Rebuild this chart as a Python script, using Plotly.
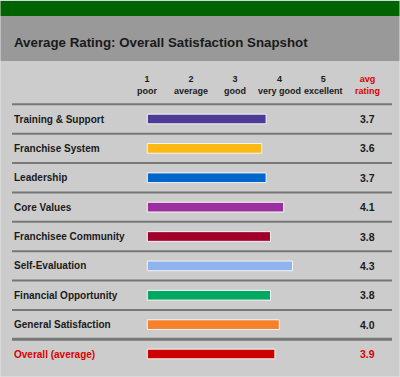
import plotly.graph_objects as go

categories = ["Training & Support", "Franchise System", "Leadership", "Core Values",
              "Franchisee Community", "Self-Evaluation", "Financial Opportunity",
              "General Satisfaction", "Overall (average)"]
ratings = [3.7, 3.6, 3.7, 4.1, 3.8, 4.3, 3.8, 4.0, 3.9]
rating_labels = ["3.7", "3.6", "3.7", "4.1", "3.8", "4.3", "3.8", "4.0", "3.9"]
bar_colors = ["#4B3A96", "#FDB913", "#0066CC", "#9B2FA0", "#A0002A",
              "#8FB3EE", "#00A862", "#F7812A", "#CC0000"]
scale_values = [1, 2, 3, 4, 5]
scale_labels = ["poor", "average", "good", "very good", "excellent"]
title = "Average Rating: Overall Satisfaction Snapshot"

W, H = 400, 377
FONT = "Liberation Sans, Arial, sans-serif"
RED = "#DD0000"

fig = go.Figure()
fig.add_trace(go.Bar(
    y=categories, x=[r - 1 for r in ratings], base=1, orientation="h",
    marker=dict(color=bar_colors, line=dict(color="#F4F4F4", width=1)),
    width=0.33, hoverinfo="skip",
))

# axes: x value -> pixel = 103.3 + 44*value ; row i -> pixel = 119 + 29.375*i
x0 = -103.3 / 44.0
x1 = (W - 103.3) / 44.0
yi_top = -119 / 29.375
yi_bot = (H - 119) / 29.375

shapes = [
    dict(type="rect", xref="paper", yref="paper", x0=0, x1=1, y0=0, y1=1,
         fillcolor="#CCCCCC", line=dict(width=0), layer="below"),
    dict(type="rect", xref="paper", yref="paper", x0=0, x1=1, y0=1 - 61 / H, y1=1 - 16 / H,
         fillcolor="#999999", line=dict(width=0), layer="below"),
    dict(type="rect", xref="paper", yref="paper", x0=0, x1=1, y0=1 - 16 / H, y1=1 - 1 / H,
         fillcolor="#006400", line=dict(width=0), layer="below"),
    dict(type="rect", xref="paper", yref="paper", x0=0, x1=1, y0=0, y1=1,
         fillcolor="rgba(0,0,0,0)", line=dict(color="#E6E6E6", width=1)),
]
n = len(categories)
for i in range(n):
    yl = i - 0.5
    w = 3 if i == n - 1 else 2
    shapes.append(dict(type="line", xref="paper", yref="y", x0=12 / W, x1=392 / W,
                       y0=yl, y1=yl, line=dict(color="#777777", width=w), layer="below"))

annotations = [dict(text=f"<b>{title}</b>", xref="paper", yref="paper", x=12 / W,
                    y=1 - 43 / H, xanchor="left", yanchor="middle", showarrow=False,
                    font=dict(family=FONT, size=13.3, color="#1A1A1A"))]
for v, lab in zip(scale_values, scale_labels):
    annotations.append(dict(text=f"<b>{v}<br>{lab}</b>", x=v, xref="x", yref="paper",
                            y=1 - 85 / H, yanchor="middle", showarrow=False,
                            font=dict(family=FONT, size=9, color="#1A1A1A")))
annotations.append(dict(text="<b>avg<br>rating</b>", x=6, xref="x", yref="paper",
                        y=1 - 85 / H, yanchor="middle", showarrow=False,
                        font=dict(family=FONT, size=9, color=RED)))
for i, (c, lab) in enumerate(zip(categories, rating_labels)):
    col = RED if i == n - 1 else "#1A1A1A"
    annotations.append(dict(text=f"<b>{c}</b>", xref="paper", x=12 / W, y=c, yref="y",
                            xanchor="left", showarrow=False,
                            font=dict(family=FONT, size=10, color=col)))
    annotations.append(dict(text=f"<b>{lab}</b>", xref="x", x=6, y=c, yref="y",
                            showarrow=False, font=dict(family=FONT, size=10.5, color=col)))

fig.update_layout(
    width=W, height=H, margin=dict(l=0, r=0, t=0, b=0),
    paper_bgcolor="#CCCCCC", plot_bgcolor="rgba(0,0,0,0)",
    showlegend=False, shapes=shapes, annotations=annotations,
    xaxis=dict(range=[x0, x1], domain=[0, 1], visible=False, fixedrange=True),
    yaxis=dict(type="category", categoryorder="array", categoryarray=categories,
               range=[yi_bot, yi_top], domain=[0, 1], visible=False, fixedrange=True),
)
fig.write_html("out.html", config={"displayModeBar": False},
               post_script="document.body.style.margin='0';document.body.style.overflow='hidden';")
